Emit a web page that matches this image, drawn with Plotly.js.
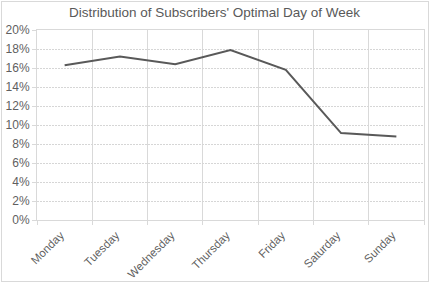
<!DOCTYPE html>
<html>
<head>
<meta charset="utf-8">
<script src="https://cdn.plot.ly/plotly-3.0.1.min.js"></script>
<style>
  html, body { margin: 0; padding: 0; background: #fff; }
  #wrap { position: relative; width: 429px; height: 283px; }
  #chart { position: absolute; left: 0; top: 0; width: 429px; height: 283px; }
  #frame { position: absolute; left: 1px; top: 1px; width: 426px; height: 279px; border: 1px solid #d9d9d9; pointer-events: none; }
</style>
</head>
<body>
<div id="wrap"><div id="chart"></div><div id="frame"></div></div>
<script>
const days = ["Monday", "Tuesday", "Wednesday", "Thursday", "Friday", "Saturday", "Sunday"];
const shares = [0.163, 0.172, 0.164, 0.179, 0.158, 0.0915, 0.088];
const yTicks = [0, 0.02, 0.04, 0.06, 0.08, 0.10, 0.12, 0.14, 0.16, 0.18, 0.20];
const chartTitle = "Distribution of Subscribers' Optimal Day of Week";

const fontFam = "Liberation Sans, Arial, Helvetica, sans-serif";
const trace = {
  type: "scatter",
  mode: "lines",
  x: days,
  y: shares,
  line: { color: "#595959", width: 2 },
  hoverinfo: "x+y"
};
const layout = {
  width: 429,
  height: 283,
  margin: { l: 37, r: 5, t: 30, b: 63 },
  paper_bgcolor: "#ffffff",
  plot_bgcolor: "#ffffff",
  showlegend: false,
  title: {
    text: chartTitle,
    font: { family: fontFam, size: 13.5, color: "#595959" },
    x: 0.5, xanchor: "center", y: 0.955, yanchor: "middle"
  },
  xaxis: {
    type: "category",
    range: [-0.5, 6.5],
    tickson: "boundaries",
    tickangle: -45,
    ticks: "outside",
    ticklen: 4,
    tickcolor: "#d9d9d9",
    ticklabelstandoff: 3,
    ticklabelshift: -4,
    showgrid: true,
    gridcolor: "#d9d9d9",
    gridwidth: 1,
    showline: true,
    linecolor: "#d9d9d9",
    mirror: true,
    zeroline: false,
    tickfont: { family: fontFam, size: 11.5, color: "#5f5f5f" },
    fixedrange: true
  },
  yaxis: {
    range: [0, 0.2],
    tickvals: yTicks,
    tickformat: ".0%",
    ticks: "outside",
    ticklen: 4,
    tickcolor: "#d9d9d9",
    showgrid: true,
    gridcolor: "#d6d6d6",
    griddash: "2px,1px",
    gridwidth: 1,
    showline: true,
    linecolor: "#d9d9d9",
    mirror: true,
    zeroline: false,
    tickfont: { family: fontFam, size: 12, color: "#5f5f5f" },
    fixedrange: true
  }
};
Plotly.newPlot("chart", [trace], layout, { displayModeBar: false, staticPlot: true });
</script>
</body>
</html>
